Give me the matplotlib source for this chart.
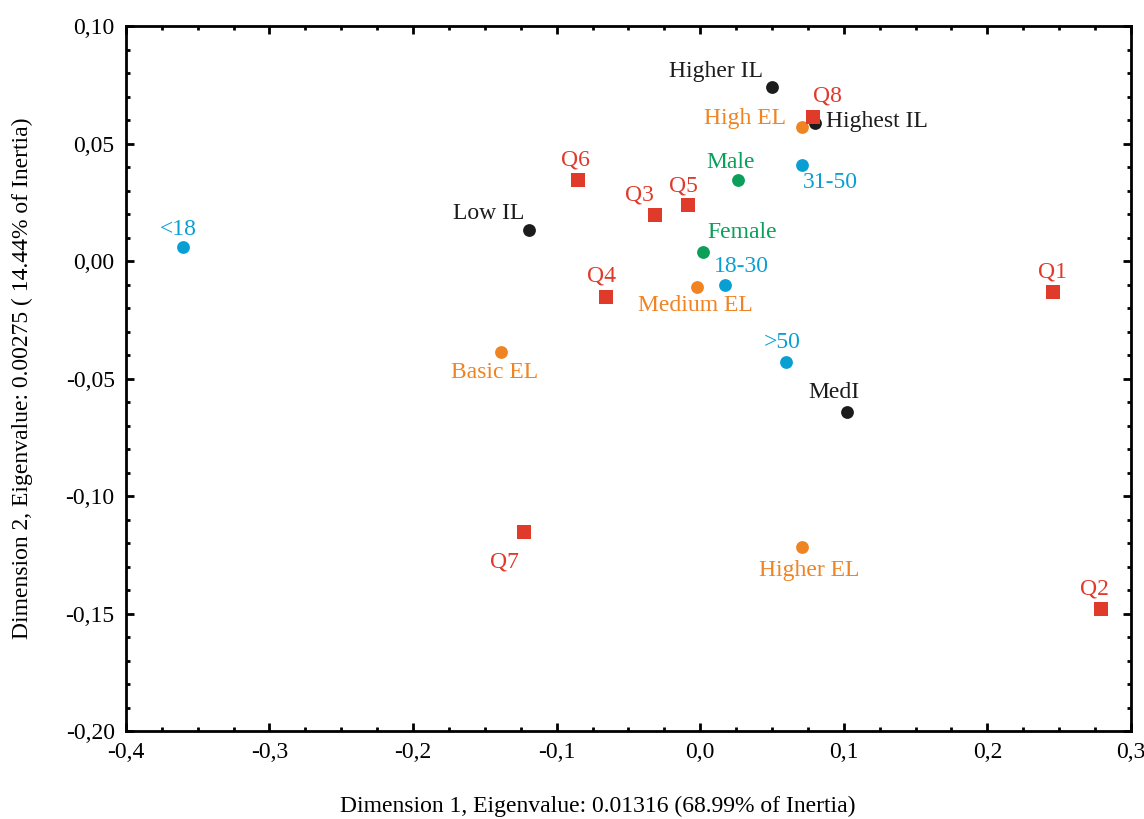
import numpy as np
import matplotlib.pyplot as plt
from matplotlib.ticker import MultipleLocator, FuncFormatter

# categories of points, grouped by variable
age_labels = ['<18', '18-30', '31-50', '>50']
age_x = [-0.360, 0.017, 0.071, 0.060]
age_y = [0.006, -0.010, 0.041, -0.043]

gender_labels = ['Male', 'Female']
gender_x = [0.026, 0.002]
gender_y = [0.0345, 0.004]

el_labels = ['High EL', 'Medium EL', 'Basic EL', 'Higher EL']
el_x = [0.071, -0.002, -0.139, 0.071]
el_y = [0.057, -0.011, -0.0387, -0.1217]

il_labels = ['Higher IL', 'Highest IL', 'Low IL', 'MedI']
il_x = [0.050, 0.080, -0.119, 0.102]
il_y = [0.074, 0.0587, 0.013, -0.0643]

q_labels = ['Q1', 'Q2', 'Q3', 'Q4', 'Q5', 'Q6', 'Q7', 'Q8']
q_x = [0.2455, 0.279, -0.0316, -0.0657, -0.0086, -0.085, -0.1228, 0.0784]
q_y = [-0.0132, -0.148, 0.0196, -0.0153, 0.0238, 0.0345, -0.1153, 0.0613]

# label offsets in pixels (dx, dy up)
offsets = {
    '<18': (-5, 17), '18-30': (17, 18), '31-50': (28, -18), '>50': (-4, 20),
    'Male': (-7, 17), 'Female': (39, 19),
    'High EL': (-57, 9), 'Medium EL': (-2, -19), 'Basic EL': (-6, -21), 'Higher EL': (7, -23),
    'Higher IL': (-56, 16), 'Highest IL': (62, 2), 'Low IL': (-41, 17), 'MedI': (-13, 20),
    'Q1': (0, 20), 'Q2': (-6, 20), 'Q3': (-15, 20), 'Q4': (-4, 21), 'Q5': (-4, 19),
    'Q6': (-3, 20), 'Q7': (-19, -30), 'Q8': (15, 21),
}

blue = '#0a9fd3'
green = '#0aa05a'
orange = '#f08322'
black = '#1c1c1c'
red = '#e03a2b'

plt.rcParams['font.family'] = ['Liberation Serif', 'DejaVu Serif']

fig = plt.figure(figsize=(11.44, 8.19), dpi=100)
ax = fig.add_axes([0.110, 0.1074, 0.8786, 0.8608])

groups = [
    (age_labels, age_x, age_y, blue, 'o', 85),
    (gender_labels, gender_x, gender_y, green, 'o', 85),
    (el_labels, el_x, el_y, orange, 'o', 85),
    (il_labels, il_x, il_y, black, 'o', 85),
    (q_labels, q_x, q_y, red, 's', 95),
]

for labels, xs, ys, col, mk, sz in groups:
    ax.scatter(xs, ys, color=col, marker=mk, s=sz, linewidths=0, zorder=3)
    for lab, x, y in zip(labels, xs, ys):
        dx, dy = offsets[lab]
        ax.annotate(lab, (x, y), xytext=(dx * 0.72, dy * 0.72), textcoords='offset points',
                    ha='center', va='center', color=col, fontsize=17, zorder=4)

ax.set_xlim(-0.4, 0.3)
ax.set_ylim(-0.20, 0.10)
ax.xaxis.set_major_locator(MultipleLocator(0.1))
ax.xaxis.set_minor_locator(MultipleLocator(0.025))
ax.yaxis.set_major_locator(MultipleLocator(0.05))
ax.yaxis.set_minor_locator(MultipleLocator(0.01))
ax.xaxis.set_major_formatter(FuncFormatter(lambda v, p: ('%.1f' % v).replace('.', ',').replace('-0,0', '0,0')))
ax.yaxis.set_major_formatter(FuncFormatter(lambda v, p: ('%.2f' % v).replace('.', ',').replace('-0,00', '0,00')))

ax.tick_params(which='both', direction='in', top=True, right=True, width=2, labelsize=17)
ax.tick_params(which='major', length=6, pad=8)
ax.tick_params(which='minor', length=3)
for s in ax.spines.values():
    s.set_linewidth(2)

ax.set_xlabel('Dimension 1, Eigenvalue: 0.01316 (68.99% of Inertia)', fontsize=17)
ax.set_ylabel('Dimension 2, Eigenvalue: 0.00275 ( 14.44% of Inertia)', fontsize=17)
ax.xaxis.set_label_coords(0.47, -0.092)
ax.yaxis.set_label_coords(-0.092, 0.50)

fig.savefig('out.png', dpi=100)
